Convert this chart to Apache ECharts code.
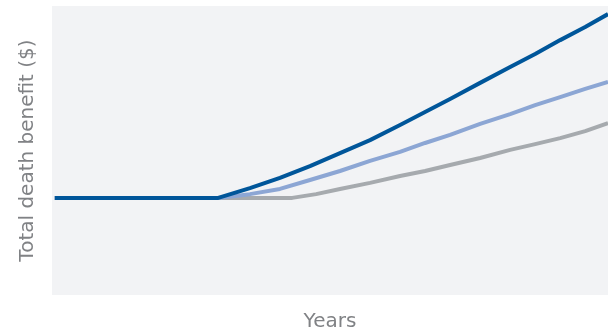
<!DOCTYPE html>
<html>
<head>
<meta charset="utf-8">
<script src="https://cdn.jsdelivr.net/npm/echarts@6/dist/echarts.min.js"></script>
<style>html,body{margin:0;padding:0;background:#fff}#c{width:608px;height:335px}</style>
</head>
<body>
<div id="c"></div>
<script>
// x: years (relative 0-100), y: death benefit (relative 0-100)
var darkX = [0.5, 29.9, 35.6, 41.0, 46.4, 51.8, 57.2, 62.6, 67.1, 71.6, 77.0, 82.4, 86.9, 91.4, 95.9, 100];
var darkY = [33.6, 33.6, 37.0, 40.5, 44.6, 49.1, 53.6, 58.8, 63.3, 67.8, 73.4, 78.9, 83.4, 88.2, 92.7, 97.2];
var lightX = [0.5, 29.9, 35.6, 41.0, 46.4, 51.8, 57.2, 62.6, 67.1, 71.6, 77.0, 82.4, 86.9, 91.4, 95.9, 100];
var lightY = [33.6, 33.6, 34.9, 36.7, 39.8, 42.9, 46.4, 49.5, 52.6, 55.4, 59.2, 62.6, 65.7, 68.5, 71.3, 73.7];
var grayX = [0.5, 29.9, 43.2, 47.5, 51.8, 57.2, 62.6, 67.1, 71.6, 77.0, 82.4, 86.9, 91.4, 95.9, 100];
var grayY = [33.6, 33.6, 33.6, 34.9, 36.7, 38.8, 41.2, 42.9, 45.0, 47.4, 50.2, 52.2, 54.3, 56.7, 59.5];
var xName = 'Years';
var yName = 'Total death benefit ($)';

function pts(xs, ys) { return xs.map(function (x, i) { return [x, ys[i]]; }); }

var chart = echarts.init(document.getElementById('c'), null, {renderer: 'canvas'});
var font = '"DejaVu Sans", sans-serif';
function line(name, data, color) {
  return {
    name: name, type: 'line', data: data, showSymbol: false, symbol: 'none',
    smooth: false,
    lineStyle: {color: color, width: 4, cap: 'butt', join: 'round'},
    animation: false
  };
}
chart.setOption({
  animation: false,
  grid: {left: 52, right: 0, top: 6, bottom: 40, show: true, backgroundColor: '#f2f3f5', borderWidth: 0,
         containLabel: false, outerBoundsMode: 'none'},
  xAxis: {
    type: 'value', min: 0, max: 100,
    axisLine: {show: false}, axisTick: {show: false}, axisLabel: {show: false}, splitLine: {show: false},
    name: xName, nameLocation: 'middle', nameGap: 17,
    nameTextStyle: {color: '#808285', fontSize: 20, fontFamily: font, verticalAlign: 'top'}
  },
  yAxis: {
    type: 'value', min: 0, max: 100,
    axisLine: {show: false}, axisTick: {show: false}, axisLabel: {show: false}, splitLine: {show: false},
    name: yName, nameLocation: 'middle', nameGap: 14,
    nameTextStyle: {color: '#808285', fontSize: 20, fontFamily: font}
  },
  series: [
    line('gray', pts(grayX, grayY), '#a6aaae'),
    line('light', pts(lightX, lightY), '#8ca6d4'),
    line('dark', pts(darkX, darkY), '#00569a')
  ]
});
</script>
</body>
</html>
